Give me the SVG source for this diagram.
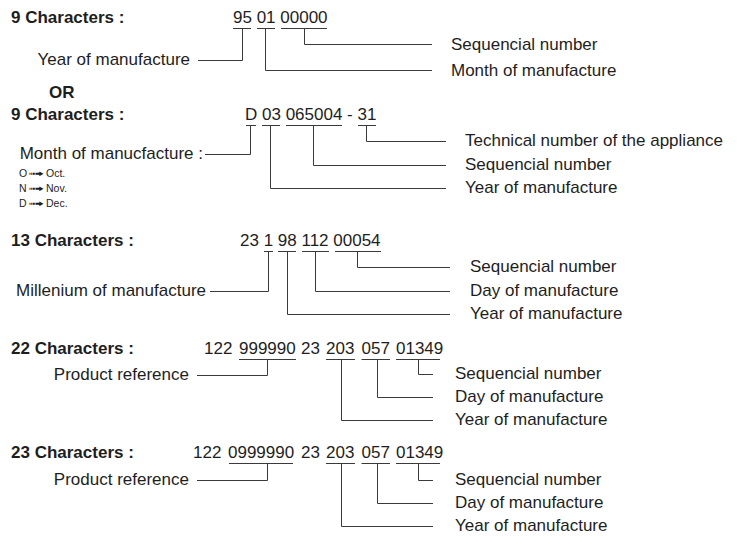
<svg xmlns="http://www.w3.org/2000/svg" width="737" height="536" viewBox="0 0 737 536">
<style>
text{font-family:"Liberation Sans",Arial,sans-serif;font-size:17px;fill:#1e1e1e}
.h{font-weight:bold}
.sm{font-size:10.5px}
.arr{font-family:"DejaVu Sans",sans-serif;font-size:11px}
.e{text-anchor:end}
#connectors path{fill:none;stroke:#3a3a3a;stroke-width:1}
</style>
<rect width="737" height="536" fill="#fff"/>

<!-- Section 1 -->
<g id="s1-title"><text class="h" x="11" y="23">9 Characters :</text></g>
<g id="s1-code"><text x="233" y="23">95 01 00000</text></g>
<g id="s1-year"><text class="e" x="190" y="65">Year of manufacture</text></g>
<g id="s1-seq"><text x="451" y="50">Sequencial number</text></g>
<g id="s1-month"><text x="451" y="76">Month of manufacture</text></g>
<g id="or"><text class="h" x="49" y="98">OR</text></g>

<!-- Section 2 -->
<g id="s2-title"><text class="h" x="11" y="120">9 Characters :</text></g>
<g id="s2-code"><text x="245" y="120">D 03 065004 - 31</text></g>
<g id="s2-month"><text class="e" x="203" y="159">Month of manucfacture :</text>
<text class="sm" x="19" y="177">O</text><text class="arr" x="28" y="177" textLength="16" lengthAdjust="spacingAndGlyphs">➟</text><text class="sm" x="46" y="177">Oct.</text>
<text class="sm" x="19" y="192">N</text><text class="arr" x="28" y="192" textLength="16" lengthAdjust="spacingAndGlyphs">➟</text><text class="sm" x="46" y="192">Nov.</text>
<text class="sm" x="19" y="207">D</text><text class="arr" x="28" y="207" textLength="16" lengthAdjust="spacingAndGlyphs">➟</text><text class="sm" x="46" y="207">Dec.</text>
</g>
<g id="s2-tech"><text x="465" y="146">Technical number of the appliance</text></g>
<g id="s2-seq"><text x="465" y="170">Sequencial number</text></g>
<g id="s2-year"><text x="465" y="193">Year of manufacture</text></g>

<!-- Section 3 -->
<g id="s3-title"><text class="h" x="11" y="246">13 Characters :</text></g>
<g id="s3-code"><text x="240" y="246">23 1 98 112 00054</text></g>
<g id="s3-mill"><text class="e" x="206" y="296">Millenium of manufacture</text></g>
<g id="s3-seq"><text x="470" y="272">Sequencial number</text></g>
<g id="s3-day"><text x="470" y="296">Day of manufacture</text></g>
<g id="s3-year"><text x="470" y="319">Year of manufacture</text></g>

<!-- Section 4 -->
<g id="s4-title"><text class="h" x="11" y="354">22 Characters :</text></g>
<g id="s4-code"><text y="354"><tspan x="204">122</tspan><tspan x="239">999990</tspan><tspan x="301">23</tspan><tspan x="326">203</tspan><tspan x="361.5">057</tspan><tspan x="396">01349</tspan></text></g>
<g id="s4-prod"><text class="e" x="189" y="380">Product reference</text></g>
<g id="s4-seq"><text x="455" y="379">Sequencial number</text></g>
<g id="s4-day"><text x="455" y="402">Day of manufacture</text></g>
<g id="s4-year"><text x="455" y="425">Year of manufacture</text></g>

<!-- Section 5 -->
<g id="s5-title"><text class="h" x="11" y="458">23 Characters :</text></g>
<g id="s5-code"><text y="458"><tspan x="193">122</tspan><tspan x="228">0999990</tspan><tspan x="301">23</tspan><tspan x="326">203</tspan><tspan x="361.5">057</tspan><tspan x="396">01349</tspan></text></g>
<g id="s5-prod"><text class="e" x="189" y="485">Product reference</text></g>
<g id="s5-seq"><text x="455" y="485">Sequencial number</text></g>
<g id="s5-day"><text x="455" y="508">Day of manufacture</text></g>
<g id="s5-year"><text x="455" y="531">Year of manufacture</text></g>

<g id="connectors">
<!-- underlines -->
<path d="M233 28.5H251M257 28.5H275M281 28.5H327"/>
<path d="M246 125.5H256M262 125.5H280M286 125.5H342M358 125.5H376"/>
<path d="M264 251.5H273M278 251.5H296M302 251.5H329M335 251.5H381"/>
<path d="M239 359.5H296M326 359.5H355M361.5 359.5H390M396 359.5H440"/>
<path d="M229 463.5H293M326 463.5H355M361.5 463.5H390M396 463.5H440"/>
<!-- section 1 -->
<path d="M242.5 28.5V60.5H198"/>
<path d="M265.5 28.5V70.5H432"/>
<path d="M304.5 28.5V44.5H432"/>
<!-- section 2 -->
<path d="M250.5 125.5V154.5H205"/>
<path d="M270.5 125.5V188.5H446"/>
<path d="M313.5 125.5V165.5H446"/>
<path d="M366.5 125.5V141.5H446"/>
<!-- section 3 -->
<path d="M268.5 251.5V291.5H210"/>
<path d="M357.5 251.5V267.5H450"/>
<path d="M315.5 251.5V291.5H450"/>
<path d="M287.5 251.5V314.5H450"/>
<!-- section 4 -->
<path d="M267.5 359.5V375.5H197"/>
<path d="M418.5 359.5V374.5H433"/>
<path d="M377.5 359.5V397.5H433"/>
<path d="M341.5 359.5V420.5H433"/>
<!-- section 5 -->
<path d="M267.5 463.5V480.5H197"/>
<path d="M418.5 463.5V480.5H433"/>
<path d="M377.5 463.5V503.5H433"/>
<path d="M341.5 463.5V526.5H433"/>
</g>
</svg>
